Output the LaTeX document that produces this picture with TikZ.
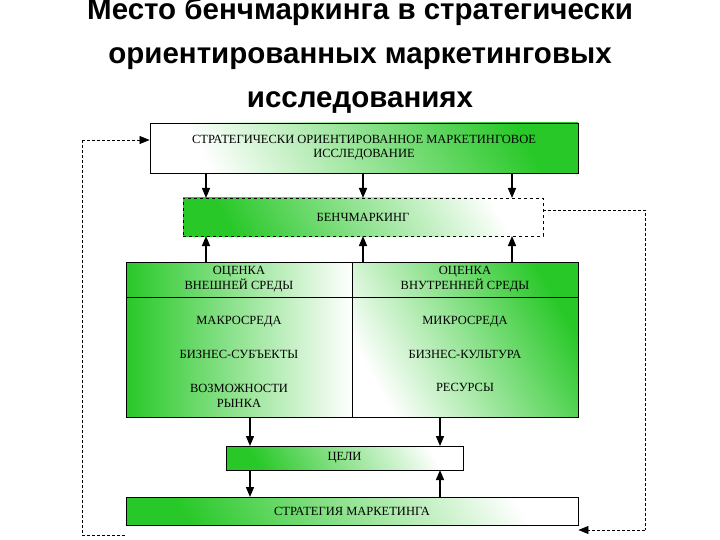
\documentclass[tikz,border=0pt]{standalone}
\usepackage{fontspec}
\setmainfont{Liberation Serif}
\newfontfamily\titlefont{Liberation Sans}
\usetikzlibrary{arrows.meta}
\definecolor{gr}{RGB}{40,200,40}
\begin{document}
\begin{tikzpicture}[x=1pt,y=-1pt,
 box/.style={draw=black,line width=0.9pt,inner sep=0pt,font=\fontsize{12.5}{14}\selectfont,align=center},
 gA/.style={shading=axis,top color=gr,bottom color=white,shading angle=-60},
 gB/.style={shading=axis,top color=white,bottom color=gr,shading angle=-60},
 gL/.style={shading=axis,left color=gr,right color=white},
 arr/.style={-{Triangle[length=10pt,width=8pt]},line width=1.3pt},
 loop/.style={densely dashed,line width=0.6pt},
 lbl/.style={font=\fontsize{12.5}{15}\selectfont,align=center}]
\useasboundingbox (0,0) rectangle (720,540);
\node[font=\titlefont\bfseries\fontsize{29.5}{44}\selectfont,align=center] (title) at (360,56)
 {Место бенчмаркинга в стратегически\\ориентированных маркетинговых\\исследованиях};
\node[box,gA,minimum width=428,minimum height=50] (top) at (364,148)
 {СТРАТЕГИЧЕСКИ ОРИЕНТИРОВАННОЕ МАРКЕТИНГОВОЕ\\ИССЛЕДОВАНИЕ};
\node[box,gB,dashed,line width=0.6pt,minimum width=360,minimum height=38] (bench) at (363,217) {БЕНЧМАРКИНГ};
\node[box,gL,minimum width=226,minimum height=155] (ml) at (239,339.5) {};
\node[box,gA,minimum width=226,minimum height=155] (mr) at (465,339.5) {};
\draw[line width=0.8pt] (ml.west |- 0,297) -- (mr.east |- 0,297);
\node[lbl] (l1) at (239,279) {ОЦЕНКА\\ВНЕШНЕЙ СРЕДЫ};
\node[lbl] (l2) at (239,322) {МАКРОСРЕДА};
\node[lbl] (l3) at (239,354) {БИЗНЕС-СУБЪЕКТЫ};
\node[lbl] (l4) at (239,396) {ВОЗМОЖНОСТИ\\РЫНКА};
\node[lbl] (r1) at (465,279) {ОЦЕНКА\\ВНУТРЕННЕЙ СРЕДЫ};
\node[lbl] (r2) at (465,322) {МИКРОСРЕДА};
\node[lbl] (r3) at (465,354) {БИЗНЕС-КУЛЬТУРА};
\node[lbl] (r4) at (465,387) {РЕСУРСЫ};
\node[box,gB,minimum width=237,minimum height=24] (goal) at (344.5,458) {ЦЕЛИ};
\node[box,gB,minimum width=452,minimum height=28] (strat) at (352,511) {СТРАТЕГИЯ МАРКЕТИНГА};
\foreach \x in {206,363,512}{
 \draw[arr] (\x,173) -- (\x,198);
 \draw[arr] (\x,262) -- (\x,236);}
\draw[arr] (250,417) -- (250,446);
\draw[arr] (440,417) -- (440,446);
\draw[arr] (250,470) -- (250,497);
\draw[arr] (440,497) -- (440,470);
\coordinate (a1) at (82,140);
\coordinate (a2) at (82,535);
\coordinate (a3) at (125,535);
\draw[loop] (a3) -- (a2) -- (a1);
\draw[loop,-{Triangle[length=10pt,width=8pt]}] (a1) -- (top.west |- a1);
\coordinate (b1) at (645,210);
\coordinate (b2) at (645,530);
\draw[loop] (bench.east |- b1) -- (b1) -- (b2);
\draw[loop,-{Triangle[length=10pt,width=8pt]}] (b2) -- (strat.east |- b2);
\end{tikzpicture}
\end{document}
